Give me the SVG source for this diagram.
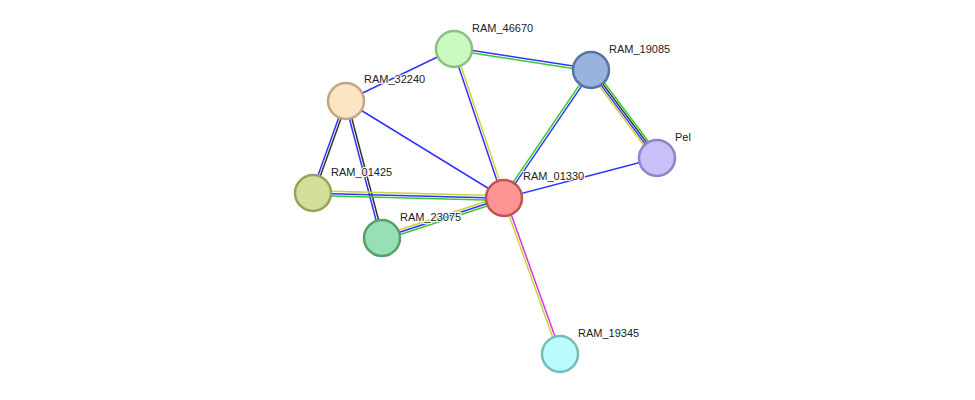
<svg xmlns="http://www.w3.org/2000/svg" width="975" height="400" viewBox="0 0 975 400">
<style>
line{stroke-width:1.5}
.b{stroke:#3333ff}.g{stroke:#33cc33}.y{stroke:#c8d43a}.k{stroke:#333333}.m{stroke:#dd33dd}
circle{stroke-width:2.5}
text{font-family:"Liberation Sans",Arial,sans-serif;font-size:11px;fill:#222;paint-order:stroke;stroke:#fff;stroke-width:2px}
</style>
<rect width="975" height="400" fill="#fff"/>
<g id="connectors">
<line class="b" x1="346" y1="101" x2="454" y2="49"/>
<line class="b" x1="454.2" y1="47.8" x2="591.2" y2="68.8"/>
<line class="g" x1="453.8" y1="50.2" x2="590.8" y2="71.2"/>
<line class="b" x1="452.9" y1="49.4" x2="502.9" y2="198.4"/>
<line class="y" x1="455.1" y1="48.6" x2="505.1" y2="197.6"/>
<line class="g" x1="590" y1="69.3" x2="503" y2="197.3"/>
<line class="b" x1="592" y1="70.7" x2="505" y2="198.7"/>
<line class="y" x1="588.6" y1="71.8" x2="654.6" y2="159.8"/>
<line class="b" x1="590.2" y1="70.6" x2="656.2" y2="158.6"/>
<line class="k" x1="591.8" y1="69.4" x2="657.8" y2="157.4"/>
<line class="g" x1="593.4" y1="68.2" x2="659.4" y2="156.2"/>
<line class="b" x1="657" y1="158" x2="504" y2="198"/>
<line class="b" x1="346" y1="101" x2="504" y2="198"/>
<line class="b" x1="344.9" y1="100.6" x2="311.9" y2="192.6"/>
<line class="k" x1="347.1" y1="101.4" x2="314.1" y2="193.4"/>
<line class="b" x1="344.8" y1="101.3" x2="380.8" y2="238.3"/>
<line class="k" x1="347.2" y1="100.7" x2="383.2" y2="237.7"/>
<line class="y" x1="313" y1="190.8" x2="504" y2="195.8"/>
<line class="b" x1="313" y1="193.2" x2="504" y2="198.2"/>
<line class="g" x1="313" y1="195.6" x2="504" y2="200.6"/>
<line class="y" x1="381.3" y1="235.7" x2="503.3" y2="195.7"/>
<line class="b" x1="382" y1="238" x2="504" y2="198"/>
<line class="g" x1="382.7" y1="240.3" x2="504.7" y2="200.3"/>
<line class="y" x1="502.9" y1="198.4" x2="558.9" y2="354.4"/>
<line class="m" x1="505.1" y1="197.6" x2="561.1" y2="353.6"/>
</g>
<g id="RAM_46670"><circle cx="454" cy="49" r="18" fill="#cbfac0" stroke="#8cbf82"/><text x="472" y="32">RAM_46670</text></g>
<g id="RAM_19085"><circle cx="591" cy="70" r="18" fill="#99b3de" stroke="#5673a3"/><text x="609" y="53">RAM_19085</text></g>
<g id="Pel"><circle cx="657" cy="158" r="18" fill="#c8c0f8" stroke="#8f84c8"/><text x="675" y="141">Pel</text></g>
<g id="RAM_32240"><circle cx="346" cy="101" r="18" fill="#fde4c2" stroke="#c4a684"/><text x="364" y="83">RAM_32240</text></g>
<g id="RAM_01425"><circle cx="313" cy="193" r="18" fill="#d3de98" stroke="#98a25a"/><text x="331" y="176">RAM_01425</text></g>
<g id="RAM_23075"><circle cx="382" cy="238" r="18" fill="#98dfb4" stroke="#57a06e"/><text x="400" y="221">RAM_23075</text></g>
<g id="RAM_01330"><circle cx="504" cy="198" r="18" fill="#fd9595" stroke="#c05353"/><text x="523" y="180">RAM_01330</text></g>
<g id="RAM_19345"><circle cx="560" cy="354" r="18" fill="#bafcfc" stroke="#78bcbc"/><text x="578" y="337">RAM_19345</text></g>
</svg>
